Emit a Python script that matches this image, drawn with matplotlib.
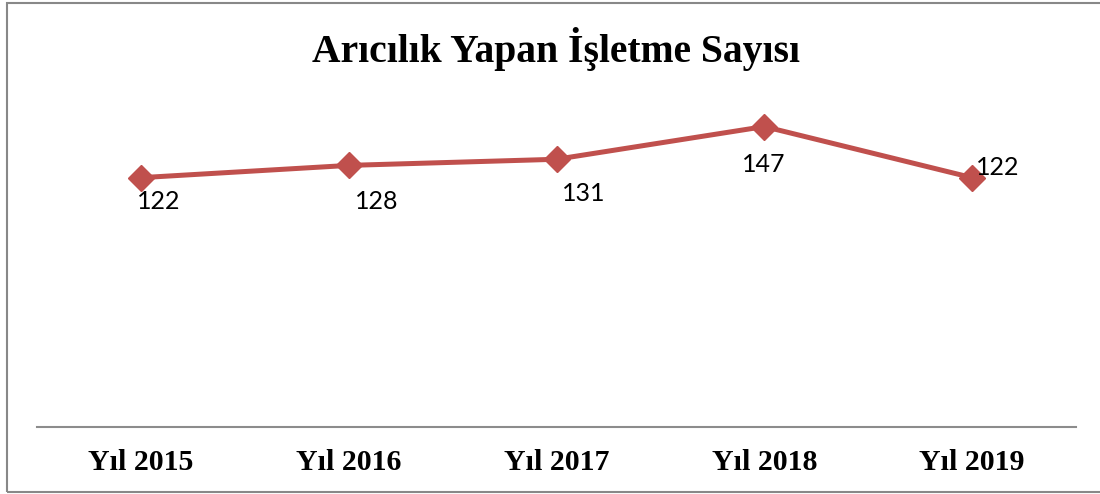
import matplotlib
matplotlib.use("Agg")
import matplotlib.pyplot as plt
from matplotlib.patches import Rectangle

categories = ["Yıl 2015", "Yıl 2016", "Yıl 2017", "Yıl 2018", "Yıl 2019"]
values = [122, 128, 131, 147, 122]
title = "Arıcılık Yapan İşletme Sayısı"

# label offsets in pixels (dx, dy) relative to each point
label_offsets = [(18, -24), (28, -36), (27, -34), (-1, -38), (26, 10)]

W, H = 1100, 494
fig = plt.figure(figsize=(W / 100, H / 100), dpi=100)
ax = fig.add_axes([37 / W, (H - 427) / H, (1076 - 37) / W, (427 - 100) / H])

color = "#C0504D"
x = list(range(len(categories)))
ax.plot(x, values, color=color, linewidth=3.6, marker="D", markersize=13,
        markerfacecolor=color, markeredgecolor=color, solid_capstyle="round")

for xi, v, (dx, dy) in zip(x, values, label_offsets):
    ax.annotate(str(v), (xi, v), xytext=(dx, dy), textcoords="offset pixels",
                ha="center", va="center", fontsize=18, family="Lato", color="black")

ax.set_xlim(-0.5, len(categories) - 0.5)
ax.set_ylim(0, 160)
ax.set_xticks(x)
ax.set_xticklabels(categories, fontsize=21.5, fontweight="bold", family="Liberation Serif")
ax.tick_params(axis="x", length=0, pad=16)
ax.set_yticks([])
for s in ["top", "right", "left"]:
    ax.spines[s].set_visible(False)
ax.spines["bottom"].set_color("#8C8C8C")
ax.spines["bottom"].set_linewidth(1.5)

fig.text(556 / W, 1 - 49 / H, title, ha="center", va="center", fontsize=28.5,
         fontweight="bold", family="Liberation Serif")

fig.patches.append(Rectangle((7 / W, 2 / H), 1.2, (491 - 2) / H, transform=fig.transFigure,
                             fill=False, edgecolor="#888888", linewidth=1.5))

fig.savefig("out.png", dpi=100)
